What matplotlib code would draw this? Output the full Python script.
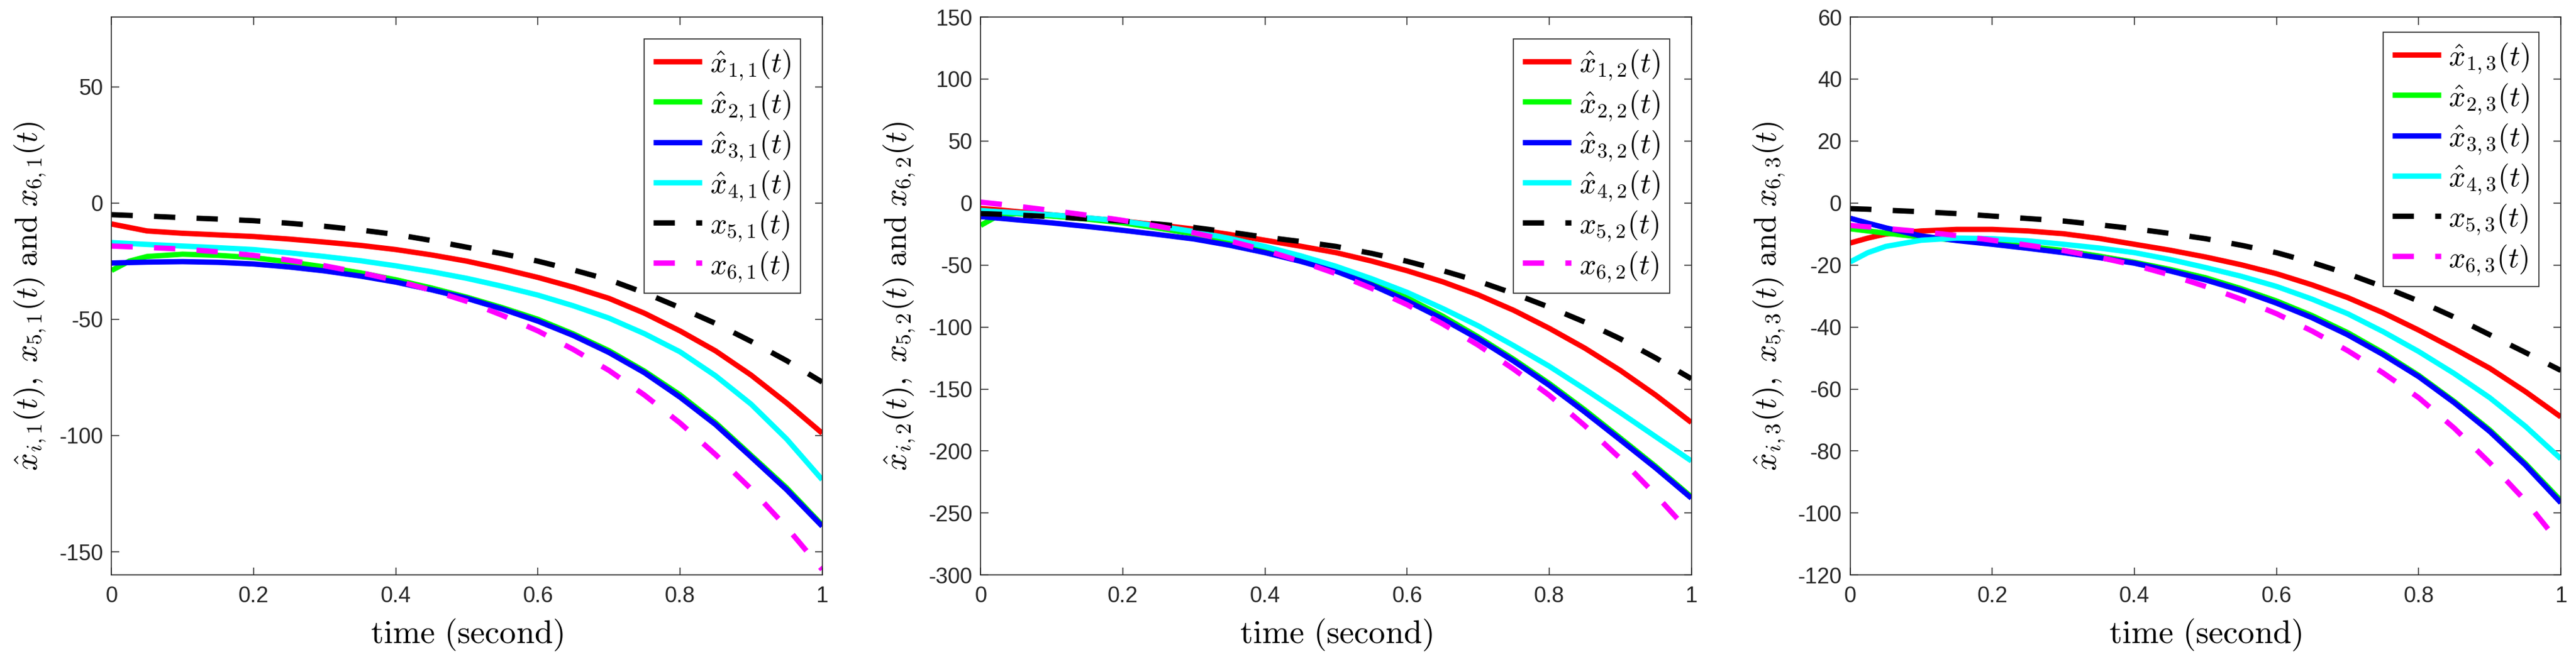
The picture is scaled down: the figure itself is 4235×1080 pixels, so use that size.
import matplotlib
matplotlib.use("Agg")
import matplotlib.pyplot as plt

plt.rcParams['mathtext.fontset'] = 'cm'
plt.rcParams['font.family'] = ['Liberation Sans', 'DejaVu Sans']

T = [0, 0.025, 0.05, 0.1, 0.15, 0.2, 0.25, 0.3, 0.35, 0.4, 0.45, 0.5,
     0.55, 0.6, 0.65, 0.7, 0.75, 0.8, 0.85, 0.9, 0.95, 1.0]

# Panel 1 (component 1)
p1_x1 = [-9, -10.5, -12, -13, -13.7, -14.4, -15.5, -16.8, -18.2, -20, -22.3, -25, -28.3, -32, -36.2, -41, -47.4, -55, -63.6, -74, -86, -99]
p1_x2 = [-29, -25, -23, -22, -22.5, -23.5, -25.3, -27.5, -30, -33, -36.5, -40.5, -45, -50, -56.3, -63.5, -72.3, -82.5, -94.5, -108.5, -122.5, -138.5]
p1_x3 = [-25.8, -25.6, -25.4, -25.2, -25.5, -26.2, -27.5, -29.2, -31.4, -34, -37.3, -41, -45.6, -50.8, -57, -64.3, -73, -83.5, -95.3, -109.2, -123.3, -139]
p1_x4 = [-17, -17.4, -17.8, -18.5, -19.2, -20, -21.4, -23, -24.8, -27, -29.5, -32.4, -35.8, -39.6, -44.2, -49.5, -56.2, -64, -74.3, -86.5, -101.5, -119]
p1_x5 = [-5, -5.3, -5.6, -6.3, -6.9, -7.6, -8.7, -10, -11.6, -13.5, -16.1, -19, -21.8, -25, -28.8, -33, -38.6, -45, -51.8, -59.5, -67.8, -77]
p1_x6 = [-18.5, -18.8, -19.1, -19.8, -21, -22.5, -24.6, -27, -29.9, -33.3, -37.5, -42.3, -48.3, -55, -63, -72, -82.6, -94.6, -108.2, -123, -139.5, -157.6]

# Panel 2 (component 2)
p2_x1 = [-4.4, -5.5, -6.8, -9.5, -12, -14.6, -17.7, -21, -25.3, -30, -34.8, -40, -46.8, -54.6, -63.5, -74, -86.5, -101, -117, -135, -155, -177]
p2_x2 = [-18, -10, -8.5, -10.5, -13, -16, -20.2, -25, -30.8, -37.6, -45, -53.6, -64.2, -76.5, -91.2, -108, -126, -145.5, -166.8, -189.5, -212.5, -237]
p2_x3 = [-11, -12.2, -13.5, -16, -18.9, -22, -25.4, -29, -34, -40, -47, -55, -66, -79, -93.5, -109.5, -127.5, -147, -168.5, -191, -213.8, -238]
p2_x4 = [-6, -7, -7.8, -9.5, -11.9, -14.6, -18.5, -23, -28.5, -35, -42.5, -51, -61, -72, -85, -99, -115, -131.6, -150, -169, -188.5, -208]
p2_x5 = [-8.5, -9, -9.6, -11, -12.7, -14.6, -17, -19.7, -23.4, -27.5, -31, -35, -40.6, -47, -54.5, -63, -73, -84, -96, -109.5, -125, -141.7]
p2_x6 = [0.7, -0.8, -2.5, -6, -9.8, -14, -18.8, -24, -30.5, -38, -47, -57, -68.8, -82, -97.5, -114.6, -134, -155, -179.5, -206, -235.5, -267]

# Panel 3 (component 3)
p3_x1 = [-12.9, -11.3, -10, -9, -8.5, -8.5, -9, -9.9, -11.4, -13.3, -15.2, -17.4, -19.9, -22.8, -26.4, -30.5, -35.4, -41, -47, -53.3, -60.8, -69]
p3_x2 = [-8.3, -9, -9.7, -11, -12, -12.9, -14, -15.3, -17.1, -19.1, -21.4, -24.1, -27.6, -31.6, -36.3, -41.8, -48.3, -55.6, -64, -73.2, -84, -96]
p3_x3 = [-4.9, -6.5, -8, -10.6, -12.1, -13.3, -14.6, -16, -17.6, -19.4, -21.9, -24.8, -28.2, -32.3, -37, -42.5, -48.9, -56, -64.4, -73.7, -84.5, -96.7]
p3_x4 = [-19, -16, -14, -12, -11.3, -11.5, -12.2, -13.3, -14.5, -16, -18.2, -20.8, -23.6, -26.9, -31, -35.7, -41.5, -47.9, -55, -62.8, -72, -82.5]
p3_x5 = [-1.8, -2, -2.3, -2.8, -3.4, -4.2, -5, -5.8, -7, -8.3, -9.8, -11.5, -13.6, -16, -19.2, -22.8, -27, -31.6, -36.8, -42.5, -48.2, -54]
p3_x6 = [-7.2, -7.7, -8.2, -9.2, -10.5, -12, -13.6, -15.3, -17.5, -20, -23.2, -26.9, -31, -35.7, -41.3, -47.6, -54.8, -62.8, -72.6, -83.8, -96, -110.3]

ylims = [(-160, 80), (-300, 150), (-120, 60)]
yticks = [[-150, -100, -50, 0, 50],
          [-300, -250, -200, -150, -100, -50, 0, 50, 100, 150],
          [-120, -100, -80, -60, -40, -20, 0, 20, 40, 60]]
xticks = [0, 0.2, 0.4, 0.6, 0.8, 1]
xtick_labels = ['0', '0.2', '0.4', '0.6', '0.8', '1']

panels = [
    [p1_x1, p1_x2, p1_x3, p1_x4, p1_x5, p1_x6],
    [p2_x1, p2_x2, p2_x3, p2_x4, p2_x5, p2_x6],
    [p3_x1, p3_x2, p3_x3, p3_x4, p3_x5, p3_x6],
]

colors = ['#FF0000', '#00FF00', '#0000FF', '#00FFFF', '#000000', '#FF00FF']
dashed = [False, False, False, False, True, True]

W, H = 4235, 1080
fig = plt.figure(figsize=(W / 100, H / 100), dpi=100)
lefts = [183.3, 1612.3, 3041.7]
ax_w = 1168.4
ax_top = 28
ax_bot = 945.3
ax_h = ax_bot - ax_top
leg_anchor = [(1 - 36 / ax_w, 1 - 36 / ax_h),
              (1 - 36 / ax_w, 1 - 36 / ax_h),
              (1 - 36 / ax_w, 1 - 25 / ax_h)]

axcol = '#262626'
axes = []
for k in range(3):
    ax = fig.add_axes([lefts[k] / W, (H - ax_bot) / H, ax_w / W, ax_h / H])
    j = k + 1
    for i, (vals, c, d) in enumerate(zip(panels[k], colors, dashed)):
        if i < 4:
            lab = r'$\hat{x}_{%d,%d}(t)$' % (i + 1, j)
        else:
            lab = r'$x_{%d,%d}(t)$' % (i + 1, j)
        if d:
            ax.plot(T, vals, color=c, lw=6.3, ls=(0, (4, 4)), label=lab,
                    dash_capstyle='butt', solid_joinstyle='round')
        else:
            ax.plot(T, vals, color=c, lw=6.3, label=lab, solid_capstyle='butt',
                    solid_joinstyle='round')
    ax.set_xlim(0, 1)
    ax.set_ylim(*ylims[k])
    ax.set_xticks(xticks)
    ax.set_xticklabels(xtick_labels)
    ax.set_yticks(yticks[k])
    ax.set_yticklabels([str(v) for v in yticks[k]])
    ax.tick_params(direction='in', length=9, width=1.1, top=True, right=True,
                   labelsize=26, colors=axcol, pad=13)
    ax.tick_params(axis='y', pad=10)
    for s in ax.spines.values():
        s.set_color(axcol)
        s.set_linewidth(1.2)
    ax.set_xlabel(r'$\mathrm{time\ (second)}$', fontsize=38, color='black')
    ax.set_ylabel(r'$\hat{x}_{i,%d}(t),\ x_{5,%d}(t)\ \mathrm{and}\ x_{6,%d}(t)$' % (j, j, j),
                  fontsize=34, color='black')
    leg = ax.legend(loc='upper right', bbox_to_anchor=leg_anchor[k], borderaxespad=0,
                    fontsize=36, handlelength=1.6, handletextpad=0.25,
                    labelspacing=0.2, borderpad=0.3, fancybox=False, framealpha=1)
    leg.get_frame().set_edgecolor(axcol)
    leg.get_frame().set_linewidth(1.2)
    axes.append(ax)

# fit label / legend sizes to the measured extents of the reference
renderer = fig.canvas.get_renderer()
for it in range(3):
    for ax in axes:
        xl = ax.xaxis.label
        yl = ax.yaxis.label
        leg = ax.get_legend()
        bx = xl.get_window_extent(renderer)
        xl.set_fontsize(xl.get_fontsize() * 317.0 / bx.width)
        by = yl.get_window_extent(renderer)
        yl.set_fontsize(yl.get_fontsize() * 575.0 / by.height)
        bl = leg.get_window_extent(renderer)
        fs = leg.get_texts()[0].get_fontsize() * 404.0 / bl.height
        for t in leg.get_texts():
            t.set_fontsize(fs)
        leg._fontsize = fs
    fig.canvas.draw()

for k, ax in enumerate(axes):
    # y label: right ink edge ~79px from left edge of panel column, centered vertically
    ax.yaxis.set_label_coords((lefts[k] - 104.0 - lefts[k]) / ax_w, 0.5)
    # x label: top at ~1015 px
    ax.xaxis.set_label_coords(0.5, -(1015.0 - ax_bot) / ax_h)
    ax.xaxis.label.set_va('top')

fig.savefig('out.png', dpi=100)
